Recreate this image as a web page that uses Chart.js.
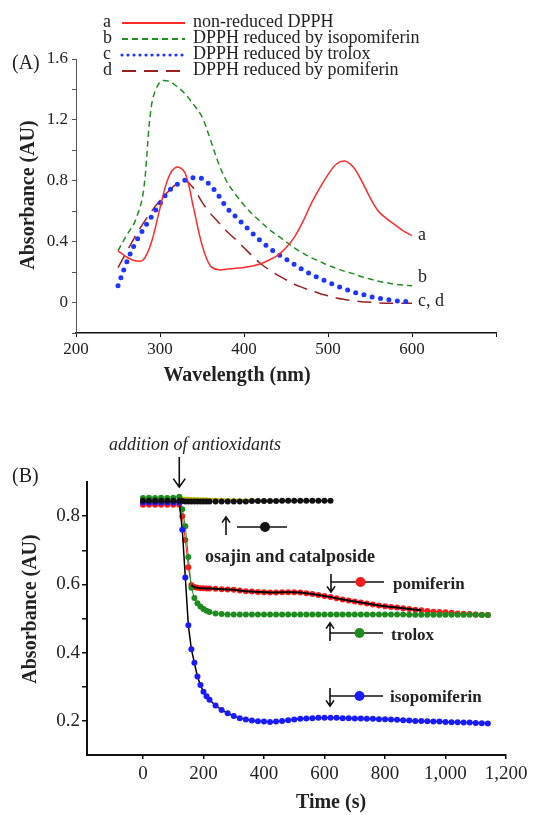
<!DOCTYPE html>
<html>
<head>
<meta charset="utf-8">
<script src="https://cdn.jsdelivr.net/npm/chart.js@4.4.1/dist/chart.umd.min.js"></script>
<style>
  html, body { margin: 0; padding: 0; background: #fff; }
  #wrap { position: relative; width: 533px; height: 815px; }
  canvas { position: absolute; left: 0; }
</style>
</head>
<body>
<div id="wrap">
  <canvas id="spectraChart" width="533" height="400" style="top:0"></canvas>
  <canvas id="kineticsChart" width="533" height="415" style="top:400px"></canvas>
</div>
<script>
// ---- Panel A: absorption spectra ----
const wavelengths = [250, 260, 270, 280, 290, 300, 310, 320, 330, 340, 350, 360, 370, 380, 390, 400, 410, 420,
  430, 440, 450, 460, 470, 480, 490, 500, 510, 520, 530, 540, 550, 560, 570, 580, 590, 600];
const nonReduced = [0.34, 0.30, 0.275, 0.28, 0.40, 0.62, 0.82, 0.89, 0.85, 0.62, 0.38, 0.24, 0.215, 0.22, 0.225, 0.23, 0.24, 0.255,
  0.28, 0.31, 0.36, 0.43, 0.53, 0.65, 0.75, 0.84, 0.91, 0.93, 0.89, 0.80, 0.69, 0.60, 0.55, 0.51, 0.47, 0.44];
const byIsopomiferin = [0.34, 0.44, 0.53, 0.72, 1.30, 1.45, 1.455, 1.42, 1.37, 1.30, 1.22, 1.07, 0.91, 0.79, 0.71, 0.64, 0.58, 0.53,
  0.48, 0.44, 0.40, 0.36, 0.325, 0.295, 0.27, 0.245, 0.225, 0.205, 0.19, 0.17, 0.155, 0.14, 0.13, 0.12, 0.115, 0.11];
const byTrolox = [0.11, 0.26, 0.385, 0.48, 0.565, 0.65, 0.73, 0.775, 0.805, 0.82, 0.815, 0.77, 0.70, 0.62, 0.565, 0.51, 0.455, 0.405,
  0.36, 0.32, 0.285, 0.25, 0.215, 0.185, 0.16, 0.135, 0.11, 0.09, 0.07, 0.055, 0.04, 0.03, 0.02, 0.012, 0.007, 0.005];
const byPomiferin = [0.23, 0.33, 0.43, 0.52, 0.60, 0.67, 0.73, 0.78, 0.80, 0.75, 0.66, 0.585, 0.525, 0.465, 0.415, 0.36, 0.305, 0.255,
  0.215, 0.18, 0.15, 0.12, 0.098, 0.078, 0.06, 0.045, 0.03, 0.02, 0.012, 0.006, 0.002, -0.002, -0.004, -0.005, -0.005, -0.005];
const spectrumNames = ['non-reduced DPPH', 'DPPH reduced by isopomiferin', 'DPPH reduced by trolox', 'DPPH reduced by pomiferin'];
const spectrumLetters = ['a', 'b', 'c', 'd'];
const wavelengthTicks = [200, 300, 400, 500, 600, 700];
const absorbanceTicksA = [-0.2, 0, 0.2, 0.4, 0.6, 0.8, 1, 1.2, 1.4, 1.6];
const absorbanceLabelsA = [0, 0.4, 0.8, 1.2, 1.6];

// ---- Panel B: absorbance at 517 nm over time ----
const times = [0, 20, 40, 60, 80, 100, 120, 130, 140, 150, 160, 170, 180, 190, 200, 210, 220,
  240, 260, 280, 300, 320, 340, 360, 380, 400, 420, 440, 460, 480, 500, 520, 540, 560, 580, 600, 620,
  640, 660, 680, 700, 720, 740, 760, 780, 800, 820, 840, 860, 880, 900, 920, 940, 960, 980, 1000,
  1020, 1040, 1060, 1080, 1100, 1120, 1140];
const osajin = [0.845, 0.845, 0.845, 0.845, 0.845, 0.845, 0.845, 0.844, 0.843, 0.843, 0.843, 0.843, 0.843, 0.843, 0.843, 0.843, 0.843,
  0.843, 0.843, 0.843, 0.843, 0.843, 0.843, 0.844, 0.844, 0.844, 0.844, 0.844, 0.845, 0.845, 0.845, 0.845, 0.845, 0.845, 0.845, 0.845, 0.845,
  null, null, null, null, null, null, null, null, null, null, null, null, null, null, null, null, null, null, null,
  null, null, null, null, null, null, null];
const catalposide = [0.845, 0.845, 0.845, 0.845, 0.845, 0.845, 0.845, 0.854, 0.853, 0.853, 0.852, 0.852, 0.852, 0.851, 0.851, 0.851, 0.850,
  0.850, 0.849, 0.849, 0.848, 0.848, 0.847, 0.847, 0.846, 0.846, 0.845, 0.845, 0.845, 0.845, 0.845, 0.845, 0.845, 0.845, 0.845, 0.845, 0.845,
  null, null, null, null, null, null, null, null, null, null, null, null, null, null, null, null, null, null, null,
  null, null, null, null, null, null, null];
const pomiferin = [0.833, 0.833, 0.833, 0.833, 0.833, 0.833, 0.833, 0.80, 0.73, 0.65, 0.598, 0.592, 0.590, 0.589, 0.589, 0.588, 0.588,
  0.587, 0.586, 0.585, 0.584, 0.582, 0.580, 0.579, 0.578, 0.577, 0.576, 0.576, 0.577, 0.577, 0.577, 0.576, 0.574, 0.572, 0.569, 0.566, 0.563,
  0.559, 0.556, 0.553, 0.550, 0.547, 0.544, 0.541, 0.538, 0.536, 0.534, 0.532, 0.530, 0.528, 0.526, 0.524, 0.522, 0.520, 0.519, 0.518,
  0.517, 0.515, 0.514, 0.513, 0.512, 0.511, 0.510];
const trolox = [0.853, 0.854, 0.853, 0.854, 0.853, 0.854, 0.857, 0.82, 0.77, 0.68, 0.59, 0.56, 0.545, 0.535, 0.528, 0.523, 0.519,
  0.515, 0.513, 0.512, 0.512, 0.512, 0.512, 0.512, 0.512, 0.512, 0.512, 0.512, 0.512, 0.512, 0.512, 0.512, 0.512, 0.512, 0.512, 0.512, 0.512,
  0.512, 0.512, 0.512, 0.512, 0.512, 0.512, 0.512, 0.512, 0.512, 0.512, 0.512, 0.512, 0.511, 0.511, 0.511, 0.511, 0.511, 0.511, 0.511,
  0.511, 0.511, 0.511, 0.511, 0.511, 0.510, 0.510];
const isopomiferin = [0.84, 0.84, 0.84, 0.84, 0.84, 0.84, 0.84, 0.76, 0.62, 0.48, 0.41, 0.37, 0.33, 0.305, 0.285, 0.272, 0.262,
  0.245, 0.232, 0.222, 0.214, 0.208, 0.204, 0.201, 0.199, 0.198, 0.197, 0.198, 0.200, 0.202, 0.204, 0.206, 0.207, 0.208, 0.209, 0.209, 0.209,
  0.209, 0.208, 0.208, 0.207, 0.207, 0.206, 0.206, 0.205, 0.205, 0.204, 0.203, 0.202, 0.201, 0.200, 0.200, 0.199, 0.198, 0.198, 0.197,
  0.196, 0.196, 0.195, 0.195, 0.194, 0.193, 0.192];
const additionTime = 120;
const pomiferinFitRange = [160, 920];
const timeTicks = [0, 200, 400, 600, 800, 1000, 1200];
const absorbanceTicksB = [0.2, 0.3, 0.4, 0.5, 0.6, 0.7, 0.8];
const absorbanceLabelsB = [0.2, 0.4, 0.6, 0.8];

const serif = '"Liberation Serif", "Times New Roman", serif';
Chart.defaults.font.family = serif;
Chart.defaults.color = '#222';

const pairs = (xs, ys) => xs.map((x, i) => ({ x, y: ys[i] }));

// little helper for the arrows in panel B
function arrow(ctx, x, y1, y2, head) {
  ctx.beginPath();
  ctx.moveTo(x, y1);
  ctx.lineTo(x, y2);
  const dir = y2 > y1 ? -1 : 1;
  ctx.moveTo(x - head, y2 + dir * head * 1.4);
  ctx.lineTo(x, y2);
  ctx.lineTo(x + head, y2 + dir * head * 1.4);
  ctx.stroke();
}

const spectraText = {
  id: 'spectraText',
  afterDraw(chart) {
    const { ctx, scales: { x, y } } = chart;
    const sets = chart.data.datasets;
    const legendDash = [[], [6, 4], [0, 6], [14, 8]];
    const legendWidth = [1.8, 1.8, 3.2, 1.8];
    ctx.save();
    ctx.textBaseline = 'middle';
    ctx.fillStyle = '#222';
    ctx.font = '20px ' + serif;
    ctx.fillText('(A)', 12, 64);

    ctx.font = '18px ' + serif;
    sets.forEach((ds, i) => {
      const rowY = 22 + i * 16;
      ctx.fillStyle = '#222';
      ctx.fillText(spectrumLetters[i], 103, rowY);
      ctx.fillText(ds.label, 193, rowY);
      ctx.strokeStyle = ds.borderColor;
      ctx.lineWidth = legendWidth[i];
      ctx.lineCap = i === 2 ? 'round' : 'butt';
      ctx.setLineDash(legendDash[i]);
      ctx.beginPath();
      ctx.moveTo(122, rowY + 1);
      ctx.lineTo(185, rowY + 1);
      ctx.stroke();
    });
    ctx.setLineDash([]);

    // curve letters at the right end
    const endX = x.getPixelForValue(wavelengths[wavelengths.length - 1]) + 6;
    ctx.fillStyle = '#222';
    ctx.fillText('a', endX, y.getPixelForValue(nonReduced[nonReduced.length - 1]));
    ctx.fillText('b', endX, y.getPixelForValue(byIsopomiferin[byIsopomiferin.length - 1]) - 9);
    ctx.fillText('c, d', endX, y.getPixelForValue(byTrolox[byTrolox.length - 1]) - 1);

    // axis titles
    ctx.font = 'bold 20px ' + serif;
    ctx.textAlign = 'center';
    ctx.fillText('Wavelength (nm)', 237, 376);
    ctx.translate(29, 195);
    ctx.rotate(-Math.PI / 2);
    ctx.fillText('Absorbance (AU)', 0, 0);
    ctx.restore();
  }
};

new Chart(document.getElementById('spectraChart'), {
  type: 'line',
  data: {
    datasets: [
      { label: spectrumNames[0], data: pairs(wavelengths, nonReduced), borderColor: '#ff2a2a', borderWidth: 1.5 },
      { label: spectrumNames[1], data: pairs(wavelengths, byIsopomiferin), borderColor: '#1f8f1f', borderWidth: 1.5, borderDash: [6, 4] },
      { label: spectrumNames[2], data: pairs(wavelengths, byTrolox), borderColor: '#1c35ff', borderWidth: 5, borderDash: [0, 8.5], borderCapStyle: 'round' },
      { label: spectrumNames[3], data: pairs(wavelengths, byPomiferin), borderColor: '#9b1f1f', borderWidth: 1.5, borderDash: [14, 8] }
    ]
  },
  options: {
    responsive: false,
    animation: false,
    events: [],
    layout: { padding: { left: 0, top: 59, right: 37, bottom: 0 } },
    elements: {
      point: { radius: 0 },
      line: { tension: 0.35, fill: false }
    },
    scales: {
      x: {
        type: 'linear', min: 200, max: 700,
        afterBuildTicks: s => { s.ticks = wavelengthTicks.map(v => ({ value: v })); },
        afterFit: s => { s.height = 67; },
        ticks: { font: { size: 17 }, padding: 2, maxRotation: 0, callback: v => (v <= 600 ? String(v) : '') },
        grid: { display: true, drawOnChartArea: false, tickLength: 4, color: '#111' },
        border: { display: true, color: '#111', width: 1.5 }
      },
      y: {
        min: -0.2, max: 1.6,
        afterBuildTicks: s => { s.ticks = absorbanceTicksA.map(v => ({ value: v })); },
        afterFit: s => { s.width = 76; },
        ticks: { font: { size: 17 }, padding: 4, callback: v => (absorbanceLabelsA.includes(v) ? String(v) : '') },
        grid: { display: true, drawOnChartArea: false, tickLength: 4, color: '#555' },
        border: { display: true, color: '#555', width: 1 }
      }
    },
    plugins: { legend: { display: false }, tooltip: { enabled: false } }
  },
  plugins: [spectraText]
});

const kineticsText = {
  id: 'kineticsText',
  afterDraw(chart) {
    const { ctx, scales: { x } } = chart;
    ctx.save();
    ctx.textBaseline = 'middle';
    ctx.fillStyle = '#222';
    ctx.strokeStyle = '#111';
    ctx.font = '20px ' + serif;
    ctx.fillText('(B)', 12, 77);

    ctx.font = 'italic 18px ' + serif;
    ctx.textAlign = 'center';
    ctx.fillText('addition of antioxidants', 195, 45);
    ctx.lineWidth = 1.6;
    arrow(ctx, x.getPixelForValue(additionTime), 57, 87, 6);

    // inline legend: arrow, line with marker, name
    const items = [
      { ax: 226, up: true, y: 127, x1: 237, x2: 287, color: '#111' },
      { ax: 331, up: false, y: 182, x1: 331, x2: 384, color: '#ff1a1a', name: 'pomiferin', tx: 393, ty: 185 },
      { ax: 330, up: true, y: 233, x1: 330, x2: 383, color: '#1e8c1e', name: 'trolox', tx: 391, ty: 236 },
      { ax: 330, up: false, y: 296, x1: 330, x2: 383, color: '#1a1aff', name: 'isopomiferin', tx: 390, ty: 298 }
    ];
    ctx.textAlign = 'left';
    ctx.font = 'bold 17px ' + serif;
    items.forEach(it => {
      ctx.lineWidth = 1.6;
      if (it.up) arrow(ctx, it.ax, it.y + 8, it.y - 10, 4);
      else arrow(ctx, it.ax, it.y - 8, it.y + 10, 4);
      ctx.beginPath();
      ctx.moveTo(it.x1, it.y);
      ctx.lineTo(it.x2, it.y);
      ctx.stroke();
      ctx.fillStyle = it.color;
      ctx.beginPath();
      ctx.arc((it.x1 + it.x2) / 2 + 3, it.y, 5, 0, Math.PI * 2);
      ctx.fill();
      ctx.fillStyle = '#222';
      if (it.name) ctx.fillText(it.name, it.tx, it.ty);
    });
    ctx.font = 'bold 18px ' + serif;
    ctx.textAlign = 'center';
    ctx.fillText('osajin and catalposide', 290, 157);

    ctx.font = 'bold 20px ' + serif;
    ctx.fillText('Time (s)', 331, 403);
    ctx.translate(31, 209);
    ctx.rotate(-Math.PI / 2);
    ctx.fillText('Absorbance (AU)', 0, 0);
    ctx.restore();
  }
};

const marker = (color, line, order) => ({
  borderColor: line,
  borderWidth: 1,
  pointBackgroundColor: color,
  pointBorderWidth: 0,
  pointRadius: 3,
  order
});

new Chart(document.getElementById('kineticsChart'), {
  type: 'line',
  data: {
    datasets: [
      { label: 'pomiferin fit', data: times.map((t, i) => ({ x: t, y: t >= pomiferinFitRange[0] && t <= pomiferinFitRange[1] ? pomiferin[i] : null })),
        borderColor: '#000', borderWidth: 2, pointRadius: 0, order: 0 },
      { label: 'osajin', data: pairs(times, osajin), ...marker('#111', '#111', 1) },
      { label: 'isopomiferin', data: pairs(times, isopomiferin), ...marker('#1a1aff', '#000', 2), borderWidth: 1.5 },
      { label: 'trolox', data: pairs(times, trolox), ...marker('#1e8c1e', '#1e8c1e', 3) },
      { label: 'pomiferin', data: pairs(times, pomiferin), ...marker('#ff1a1a', '#ff1a1a', 4) },
      { label: 'catalposide', data: pairs(times, catalposide), ...marker('#c2b800', '#c2b800', 5), pointRadius: 1.5, borderWidth: 2 }
    ]
  },
  options: {
    responsive: false,
    animation: false,
    events: [],
    layout: { padding: { left: 0, top: 82, right: 27, bottom: 0 } },
    elements: { line: { tension: 0, fill: false } },
    scales: {
      x: {
        type: 'linear', min: -185, max: 1200,
        afterBuildTicks: s => { s.ticks = timeTicks.map(v => ({ value: v })); },
        afterFit: s => { s.height = 60; },
        ticks: { font: { size: 19 }, padding: 4, maxRotation: 0, callback: v => v.toLocaleString('en-US') },
        grid: { display: true, drawOnChartArea: false, tickLength: 4, color: '#111', lineWidth: 1.5 },
        border: { display: true, color: '#111', width: 2 }
      },
      y: {
        min: 0.1, max: 0.9,
        afterBuildTicks: s => { s.ticks = absorbanceTicksB.map(v => ({ value: v })); },
        afterFit: s => { s.width = 87; },
        ticks: { font: { size: 19 }, padding: 2, callback: v => (absorbanceLabelsB.includes(v) ? String(v) : '') },
        grid: { display: true, drawOnChartArea: false, tickLength: 5, color: '#111', lineWidth: 1.5 },
        border: { display: true, color: '#111', width: 2 }
      }
    },
    plugins: { legend: { display: false }, tooltip: { enabled: false } }
  },
  plugins: [kineticsText]
});
</script>
</body>
</html>
